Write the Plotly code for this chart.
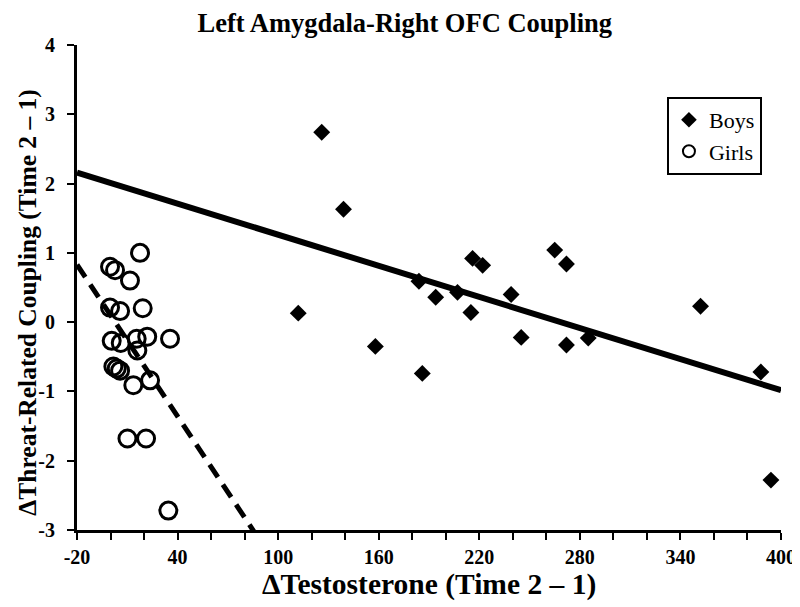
import numpy as np
import plotly.graph_objects as go

# Boys data
boys_x = [112, 126, 139, 158, 184, 186, 194, 207, 215, 216, 222, 239, 245, 265, 272, 272, 285, 352, 388, 394]
boys_y = [0.13, 2.74, 1.63, -0.35, 0.59, -0.74, 0.36, 0.43, 0.14, 0.92, 0.82, 0.40, -0.22, 1.04, 0.84, -0.33, -0.23, 0.23, -0.72, -2.28]

# Girls data
girls_x = [17.6, -0.3, 2.7, 11.6, -0.3, 5.7, 19.2, 0.7, 6.1, 15.6, 21.9, 35.5, 16.0, 1.7, 3.7, 5.7, 13.6, 23.6, 10.1, 21.2, 34.5]
girls_y = [1.00, 0.80, 0.75, 0.60, 0.21, 0.16, 0.20, -0.27, -0.30, -0.24, -0.21, -0.24, -0.41, -0.64, -0.67, -0.70, -0.91, -0.84, -1.68, -1.68, -2.72]

# Fitted regression lines (intercept, slope)
boys_fit = (2.01, -0.00748)
girls_fit = (0.10, -0.0365)

x_range = [-20, 400]
y_range = [-3, 4]
x_ticks = [-20, 40, 100, 160, 220, 280, 340, 400]
y_ticks = [-3, -2, -1, 0, 1, 2, 3, 4]

fx = np.linspace(x_range[0], x_range[1], 200)
serif = "Liberation Serif, Times New Roman, serif"

fig = go.Figure()
fig.add_trace(go.Scatter(x=fx, y=boys_fit[0] + boys_fit[1] * fx, mode="lines",
                         line=dict(color="black", width=6), showlegend=False, hoverinfo="skip"))
fig.add_trace(go.Scatter(x=fx, y=girls_fit[0] + girls_fit[1] * fx, mode="lines",
                         line=dict(color="black", width=5, dash="15px,9px"), showlegend=False, hoverinfo="skip"))
fig.add_trace(go.Scatter(x=boys_x, y=boys_y, mode="markers", name="Boys",
                         marker=dict(symbol="diamond", size=13, color="black", line=dict(width=0))))
fig.add_trace(go.Scatter(x=girls_x, y=girls_y, mode="markers", name="Girls",
                         marker=dict(symbol="circle-open", size=17, color="black", line=dict(width=3, color="black"))))

fig.update_layout(
    width=792, height=599,
    margin=dict(l=69, r=19, t=37, b=77),
    paper_bgcolor="white", plot_bgcolor="white",
    font=dict(family=serif, color="black"),
    title=dict(text="<b>Left Amygdala-Right OFC Coupling</b>", x=0.501, xanchor="center",
               yref="container", y=0.975, yanchor="middle", font=dict(size=26.5, family=serif, color="black")),
    legend=dict(x=0.838, y=0.893, xanchor="left", yanchor="top",
                bordercolor="black", borderwidth=2, bgcolor="white",
                font=dict(size=22, family=serif, color="black"),
                itemsizing="constant", tracegroupgap=0, itemwidth=30),
    showlegend=True,
    annotations=[
        dict(text="<b>ΔTestosterone (Time 2 – 1)</b>", xref="paper", yref="paper",
             x=0.5, y=-0.112, xanchor="center", yanchor="middle", showarrow=False,
             font=dict(size=29.5, family=serif, color="black")),
        dict(text="<b>ΔThreat-Related Coupling (Time 2 – 1)</b>", xref="paper", yref="paper",
             x=-0.0715, y=0.47, xanchor="center", yanchor="middle", showarrow=False, textangle=-90,
             font=dict(size=25.5, family=serif, color="black")),
    ],
)
fig.update_xaxes(
    range=x_range, tickmode="array", tickvals=x_ticks, ticktext=[f"<b>{v}</b>" for v in x_ticks],
    showgrid=False, zeroline=False, showline=True, linecolor="black", linewidth=3,
    ticks="outside", ticklen=7, tickwidth=2, tickcolor="black", automargin=False,
    minor=dict(dtick=20, tick0=-20, ticks="outside", ticklen=7, tickwidth=2, tickcolor="black", showgrid=False),
    tickfont=dict(size=20, family=serif, color="black"),
)
fig.update_yaxes(
    range=y_range, tickmode="array", tickvals=y_ticks, ticktext=[f"<b>{v}</b>" for v in y_ticks],
    showgrid=False, zeroline=False, showline=True, linecolor="black", linewidth=3,
    ticks="outside", ticklen=7, tickwidth=2, tickcolor="black", automargin=False,
    ticklabelstandoff=8,
    tickfont=dict(size=20, family=serif, color="black"),
)

fig.write_html("out.html")
